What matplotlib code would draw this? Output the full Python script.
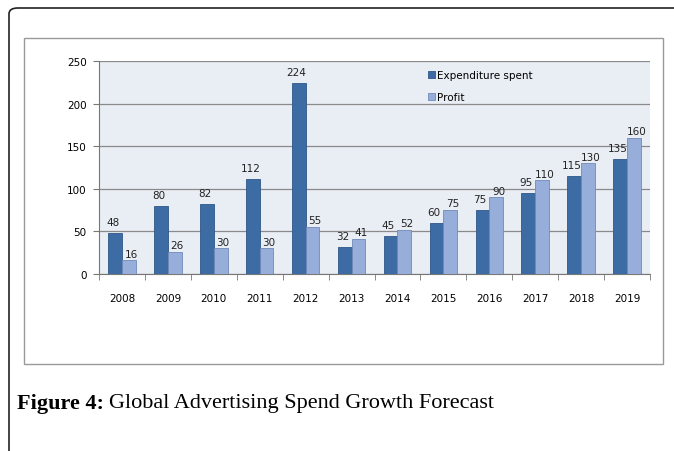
import matplotlib.pyplot as plt
from matplotlib.patches import Rectangle, FancyBboxPatch
import numpy as np

years = ['2008', '2009', '2010', '2011', '2012', '2013', '2014', '2015',
         '2016', '2017', '2018', '2019']
expenditure = [48, 80, 82, 112, 224, 32, 45, 60, 75, 95, 115, 135]
profit = [16, 26, 30, 30, 55, 41, 52, 75, 90, 110, 130, 160]

W, H = 674, 452
dark = '#3D6CA5'
light = '#97AEDA'

fig = plt.figure(figsize=(W / 100, H / 100), dpi=100)

# page border (only the top-left rounded corner is visible)
fig.patches.append(FancyBboxPatch((9 / W, -0.2), 1.3, (H - 9) / H + 0.2,
                                  boxstyle='round,pad=0,rounding_size=0.013',
                                  transform=fig.transFigure, fill=False,
                                  edgecolor='#222222', linewidth=1.2))
# chart frame
fig.patches.append(Rectangle((24 / W, (H - 365) / H), (663 - 24) / W, (365 - 39) / H,
                             transform=fig.transFigure, fill=False,
                             edgecolor='#9a9a9a', linewidth=1.0))

ax = fig.add_axes([99 / W, (H - 275) / H, (650 - 99) / W, (275 - 62) / H])
ax.set_facecolor('#E9EEF5')

x = np.arange(len(years))
bw = 0.3
ax.bar(x - bw / 2, expenditure, bw, color=dark, edgecolor='#2E5688',
       linewidth=0.6, label='Expenditure spent', zorder=3)
ax.bar(x + bw / 2, profit, bw, color=light, edgecolor='#6F89B8',
       linewidth=0.6, label='Profit', zorder=3)

for xi, v in zip(x, expenditure):
    ax.text(xi - bw / 2 - 0.05, v + 7, str(v), ha='center', va='bottom',
            fontsize=7.5, color='#222222')
for xi, v in zip(x, profit):
    ax.text(xi + bw / 2 + 0.05, v + 2, str(v), ha='center', va='bottom',
            fontsize=7.5, color='#222222')

ax.set_xlim(-0.5, len(years) - 0.5)
ax.set_ylim(0, 250)
ax.set_yticks([0, 50, 100, 150, 200, 250])
ax.yaxis.grid(True, color='#8a8a8a', linewidth=0.9, zorder=0)
ax.set_axisbelow(True)

ax.set_xticks(x)
ax.set_xticklabels(years, fontsize=7.5)
ax.set_xticks(np.arange(-0.5, len(years)), minor=True)
ax.tick_params(axis='x', which='major', length=0, pad=14)
ax.tick_params(axis='x', which='minor', length=4, color='#777777')
ax.tick_params(axis='y', length=4, color='#777777', labelsize=7.5, pad=5)

for s in ['top', 'right']:
    ax.spines[s].set_visible(False)
ax.spines['left'].set_color('#777777')
ax.spines['bottom'].set_color('#777777')

ax.legend(loc='upper left', bbox_to_anchor=(0.58, 1.0), frameon=False,
          fontsize=7.5, handlelength=0.7, handleheight=0.7, handletextpad=0.2,
          labelspacing=1.1)

# caption: bold label followed directly by the plain text
cap_y = (H - 404) / H
t1 = fig.text(17 / W, cap_y, 'Figure 4:', fontsize=16, fontweight='bold',
              family='Liberation Serif', va='center', ha='left')
fig.canvas.draw()
bb = t1.get_window_extent()
fig.text((bb.x1 + 5) / W, cap_y, 'Global Advertising Spend Growth Forecast',
         fontsize=16, family='Liberation Serif', va='center', ha='left')

fig.savefig('out.png', dpi=100)
